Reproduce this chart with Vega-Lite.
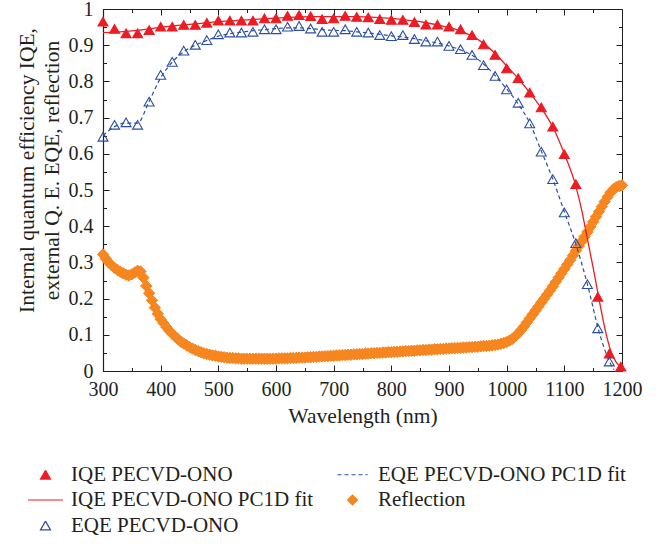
{
  "$schema": "https://vega.github.io/schema/vega-lite/v6.json",
  "autosize": {"type": "none"},
  "width": 519,
  "height": 362,
  "padding": {"left": 103, "top": 9, "right": 48, "bottom": 173},
  "background": "white",
  "config": {
    "view": {"stroke": "#231f20", "strokeWidth": 1},
    "font": "Liberation Serif",
    "axis": {
      "labelFont": "Liberation Serif",
      "titleFont": "Liberation Serif",
      "labelColor": "#231f20",
      "titleColor": "#231f20",
      "tickColor": "#231f20",
      "domainColor": "#231f20",
      "labelFontSize": 20,
      "titleFontSize": 21.5,
      "titleFontWeight": "normal",
      "labelFlush": false,
      "labelOverlap": false,
      "grid": false,
      "tickWidth": 1,
      "domainWidth": 1.2
    },
    "legend": {
      "orient": "none",
      "legendX": -68,
      "legendY": 455,
      "columns": 2,
      "columnPadding": 21,
      "rowPadding": 3.5,
      "padding": 0,
      "labelFont": "Liberation Serif",
      "labelFontSize": 21,
      "labelColor": "#231f20",
      "labelOffset": 15,
      "labelLimit": 400,
      "symbolSize": 100,
      "symbolStrokeWidth": 1.2,
      "title": null
    }
  },
  "data": {"values": [
    {"s": "IQE PECVD-ONO", "w": 300, "v": 0.965},
    {"s": "IQE PECVD-ONO", "w": 320, "v": 0.945},
    {"s": "IQE PECVD-ONO", "w": 340, "v": 0.933},
    {"s": "IQE PECVD-ONO", "w": 360, "v": 0.933},
    {"s": "IQE PECVD-ONO", "w": 380, "v": 0.942},
    {"s": "IQE PECVD-ONO", "w": 400, "v": 0.951},
    {"s": "IQE PECVD-ONO", "w": 420, "v": 0.951},
    {"s": "IQE PECVD-ONO", "w": 440, "v": 0.956},
    {"s": "IQE PECVD-ONO", "w": 460, "v": 0.956},
    {"s": "IQE PECVD-ONO", "w": 480, "v": 0.962},
    {"s": "IQE PECVD-ONO", "w": 500, "v": 0.968},
    {"s": "IQE PECVD-ONO", "w": 520, "v": 0.968},
    {"s": "IQE PECVD-ONO", "w": 540, "v": 0.968},
    {"s": "IQE PECVD-ONO", "w": 560, "v": 0.968},
    {"s": "IQE PECVD-ONO", "w": 580, "v": 0.974},
    {"s": "IQE PECVD-ONO", "w": 600, "v": 0.974},
    {"s": "IQE PECVD-ONO", "w": 620, "v": 0.981},
    {"s": "IQE PECVD-ONO", "w": 640, "v": 0.983},
    {"s": "IQE PECVD-ONO", "w": 660, "v": 0.980},
    {"s": "IQE PECVD-ONO", "w": 680, "v": 0.972},
    {"s": "IQE PECVD-ONO", "w": 700, "v": 0.974},
    {"s": "IQE PECVD-ONO", "w": 720, "v": 0.981},
    {"s": "IQE PECVD-ONO", "w": 740, "v": 0.978},
    {"s": "IQE PECVD-ONO", "w": 760, "v": 0.977},
    {"s": "IQE PECVD-ONO", "w": 780, "v": 0.972},
    {"s": "IQE PECVD-ONO", "w": 800, "v": 0.970},
    {"s": "IQE PECVD-ONO", "w": 820, "v": 0.970},
    {"s": "IQE PECVD-ONO", "w": 840, "v": 0.964},
    {"s": "IQE PECVD-ONO", "w": 860, "v": 0.957},
    {"s": "IQE PECVD-ONO", "w": 880, "v": 0.957},
    {"s": "IQE PECVD-ONO", "w": 900, "v": 0.951},
    {"s": "IQE PECVD-ONO", "w": 920, "v": 0.944},
    {"s": "IQE PECVD-ONO", "w": 940, "v": 0.928},
    {"s": "IQE PECVD-ONO", "w": 960, "v": 0.902},
    {"s": "IQE PECVD-ONO", "w": 980, "v": 0.873},
    {"s": "IQE PECVD-ONO", "w": 1000, "v": 0.836},
    {"s": "IQE PECVD-ONO", "w": 1020, "v": 0.809},
    {"s": "IQE PECVD-ONO", "w": 1040, "v": 0.769},
    {"s": "IQE PECVD-ONO", "w": 1060, "v": 0.728},
    {"s": "IQE PECVD-ONO", "w": 1080, "v": 0.675},
    {"s": "IQE PECVD-ONO", "w": 1100, "v": 0.599},
    {"s": "IQE PECVD-ONO", "w": 1120, "v": 0.516},
    {"s": "IQE PECVD-ONO", "w": 1158, "v": 0.205},
    {"s": "IQE PECVD-ONO", "w": 1178, "v": 0.048},
    {"s": "IQE PECVD-ONO", "w": 1198, "v": 0.012},
    {"s": "EQE PECVD-ONO", "w": 300, "v": 0.647},
    {"s": "EQE PECVD-ONO", "w": 320, "v": 0.680},
    {"s": "EQE PECVD-ONO", "w": 340, "v": 0.687},
    {"s": "EQE PECVD-ONO", "w": 360, "v": 0.680},
    {"s": "EQE PECVD-ONO", "w": 380, "v": 0.744},
    {"s": "EQE PECVD-ONO", "w": 400, "v": 0.818},
    {"s": "EQE PECVD-ONO", "w": 420, "v": 0.854},
    {"s": "EQE PECVD-ONO", "w": 440, "v": 0.885},
    {"s": "EQE PECVD-ONO", "w": 460, "v": 0.901},
    {"s": "EQE PECVD-ONO", "w": 480, "v": 0.914},
    {"s": "EQE PECVD-ONO", "w": 500, "v": 0.930},
    {"s": "EQE PECVD-ONO", "w": 520, "v": 0.935},
    {"s": "EQE PECVD-ONO", "w": 540, "v": 0.935},
    {"s": "EQE PECVD-ONO", "w": 560, "v": 0.937},
    {"s": "EQE PECVD-ONO", "w": 580, "v": 0.944},
    {"s": "EQE PECVD-ONO", "w": 600, "v": 0.944},
    {"s": "EQE PECVD-ONO", "w": 620, "v": 0.951},
    {"s": "EQE PECVD-ONO", "w": 640, "v": 0.953},
    {"s": "EQE PECVD-ONO", "w": 660, "v": 0.946},
    {"s": "EQE PECVD-ONO", "w": 680, "v": 0.937},
    {"s": "EQE PECVD-ONO", "w": 700, "v": 0.937},
    {"s": "EQE PECVD-ONO", "w": 720, "v": 0.944},
    {"s": "EQE PECVD-ONO", "w": 740, "v": 0.937},
    {"s": "EQE PECVD-ONO", "w": 760, "v": 0.935},
    {"s": "EQE PECVD-ONO", "w": 780, "v": 0.928},
    {"s": "EQE PECVD-ONO", "w": 800, "v": 0.925},
    {"s": "EQE PECVD-ONO", "w": 820, "v": 0.928},
    {"s": "EQE PECVD-ONO", "w": 840, "v": 0.917},
    {"s": "EQE PECVD-ONO", "w": 860, "v": 0.910},
    {"s": "EQE PECVD-ONO", "w": 880, "v": 0.910},
    {"s": "EQE PECVD-ONO", "w": 900, "v": 0.898},
    {"s": "EQE PECVD-ONO", "w": 920, "v": 0.889},
    {"s": "EQE PECVD-ONO", "w": 940, "v": 0.873},
    {"s": "EQE PECVD-ONO", "w": 960, "v": 0.845},
    {"s": "EQE PECVD-ONO", "w": 980, "v": 0.815},
    {"s": "EQE PECVD-ONO", "w": 1000, "v": 0.778},
    {"s": "EQE PECVD-ONO", "w": 1020, "v": 0.741},
    {"s": "EQE PECVD-ONO", "w": 1040, "v": 0.684},
    {"s": "EQE PECVD-ONO", "w": 1060, "v": 0.606},
    {"s": "EQE PECVD-ONO", "w": 1080, "v": 0.530},
    {"s": "EQE PECVD-ONO", "w": 1100, "v": 0.438},
    {"s": "EQE PECVD-ONO", "w": 1120, "v": 0.353},
    {"s": "EQE PECVD-ONO", "w": 1140, "v": 0.240},
    {"s": "EQE PECVD-ONO", "w": 1158, "v": 0.118},
    {"s": "EQE PECVD-ONO", "w": 1178, "v": 0.026},
    {"s": "IQE PECVD-ONO PC1D fit", "w": 300, "v": 0.935},
    {"s": "IQE PECVD-ONO PC1D fit", "w": 320, "v": 0.936},
    {"s": "IQE PECVD-ONO PC1D fit", "w": 340, "v": 0.938},
    {"s": "IQE PECVD-ONO PC1D fit", "w": 360, "v": 0.941},
    {"s": "IQE PECVD-ONO PC1D fit", "w": 380, "v": 0.945},
    {"s": "IQE PECVD-ONO PC1D fit", "w": 400, "v": 0.950},
    {"s": "IQE PECVD-ONO PC1D fit", "w": 420, "v": 0.953},
    {"s": "IQE PECVD-ONO PC1D fit", "w": 440, "v": 0.956},
    {"s": "IQE PECVD-ONO PC1D fit", "w": 460, "v": 0.959},
    {"s": "IQE PECVD-ONO PC1D fit", "w": 480, "v": 0.962},
    {"s": "IQE PECVD-ONO PC1D fit", "w": 500, "v": 0.965},
    {"s": "IQE PECVD-ONO PC1D fit", "w": 520, "v": 0.967},
    {"s": "IQE PECVD-ONO PC1D fit", "w": 540, "v": 0.969},
    {"s": "IQE PECVD-ONO PC1D fit", "w": 560, "v": 0.971},
    {"s": "IQE PECVD-ONO PC1D fit", "w": 580, "v": 0.973},
    {"s": "IQE PECVD-ONO PC1D fit", "w": 600, "v": 0.975},
    {"s": "IQE PECVD-ONO PC1D fit", "w": 620, "v": 0.977},
    {"s": "IQE PECVD-ONO PC1D fit", "w": 640, "v": 0.978},
    {"s": "IQE PECVD-ONO PC1D fit", "w": 660, "v": 0.979},
    {"s": "IQE PECVD-ONO PC1D fit", "w": 680, "v": 0.979},
    {"s": "IQE PECVD-ONO PC1D fit", "w": 700, "v": 0.979},
    {"s": "IQE PECVD-ONO PC1D fit", "w": 720, "v": 0.979},
    {"s": "IQE PECVD-ONO PC1D fit", "w": 740, "v": 0.979},
    {"s": "IQE PECVD-ONO PC1D fit", "w": 760, "v": 0.978},
    {"s": "IQE PECVD-ONO PC1D fit", "w": 780, "v": 0.976},
    {"s": "IQE PECVD-ONO PC1D fit", "w": 800, "v": 0.974},
    {"s": "IQE PECVD-ONO PC1D fit", "w": 820, "v": 0.971},
    {"s": "IQE PECVD-ONO PC1D fit", "w": 840, "v": 0.967},
    {"s": "IQE PECVD-ONO PC1D fit", "w": 860, "v": 0.962},
    {"s": "IQE PECVD-ONO PC1D fit", "w": 880, "v": 0.956},
    {"s": "IQE PECVD-ONO PC1D fit", "w": 900, "v": 0.949},
    {"s": "IQE PECVD-ONO PC1D fit", "w": 920, "v": 0.939},
    {"s": "IQE PECVD-ONO PC1D fit", "w": 940, "v": 0.925},
    {"s": "IQE PECVD-ONO PC1D fit", "w": 960, "v": 0.905},
    {"s": "IQE PECVD-ONO PC1D fit", "w": 980, "v": 0.877},
    {"s": "IQE PECVD-ONO PC1D fit", "w": 1000, "v": 0.843},
    {"s": "IQE PECVD-ONO PC1D fit", "w": 1020, "v": 0.808},
    {"s": "IQE PECVD-ONO PC1D fit", "w": 1040, "v": 0.769},
    {"s": "IQE PECVD-ONO PC1D fit", "w": 1060, "v": 0.726},
    {"s": "IQE PECVD-ONO PC1D fit", "w": 1080, "v": 0.674},
    {"s": "IQE PECVD-ONO PC1D fit", "w": 1100, "v": 0.600},
    {"s": "IQE PECVD-ONO PC1D fit", "w": 1120, "v": 0.510},
    {"s": "IQE PECVD-ONO PC1D fit", "w": 1130, "v": 0.445},
    {"s": "IQE PECVD-ONO PC1D fit", "w": 1140, "v": 0.365},
    {"s": "IQE PECVD-ONO PC1D fit", "w": 1150, "v": 0.285},
    {"s": "IQE PECVD-ONO PC1D fit", "w": 1160, "v": 0.200},
    {"s": "IQE PECVD-ONO PC1D fit", "w": 1170, "v": 0.120},
    {"s": "IQE PECVD-ONO PC1D fit", "w": 1180, "v": 0.058},
    {"s": "IQE PECVD-ONO PC1D fit", "w": 1190, "v": 0.024},
    {"s": "IQE PECVD-ONO PC1D fit", "w": 1200, "v": 0.010},
    {"s": "EQE PECVD-ONO PC1D fit", "w": 300, "v": 0.650},
    {"s": "EQE PECVD-ONO PC1D fit", "w": 320, "v": 0.675},
    {"s": "EQE PECVD-ONO PC1D fit", "w": 340, "v": 0.685},
    {"s": "EQE PECVD-ONO PC1D fit", "w": 360, "v": 0.685},
    {"s": "EQE PECVD-ONO PC1D fit", "w": 380, "v": 0.745},
    {"s": "EQE PECVD-ONO PC1D fit", "w": 400, "v": 0.810},
    {"s": "EQE PECVD-ONO PC1D fit", "w": 420, "v": 0.853},
    {"s": "EQE PECVD-ONO PC1D fit", "w": 440, "v": 0.882},
    {"s": "EQE PECVD-ONO PC1D fit", "w": 460, "v": 0.900},
    {"s": "EQE PECVD-ONO PC1D fit", "w": 480, "v": 0.913},
    {"s": "EQE PECVD-ONO PC1D fit", "w": 500, "v": 0.925},
    {"s": "EQE PECVD-ONO PC1D fit", "w": 520, "v": 0.932},
    {"s": "EQE PECVD-ONO PC1D fit", "w": 540, "v": 0.936},
    {"s": "EQE PECVD-ONO PC1D fit", "w": 560, "v": 0.940},
    {"s": "EQE PECVD-ONO PC1D fit", "w": 580, "v": 0.943},
    {"s": "EQE PECVD-ONO PC1D fit", "w": 600, "v": 0.946},
    {"s": "EQE PECVD-ONO PC1D fit", "w": 620, "v": 0.948},
    {"s": "EQE PECVD-ONO PC1D fit", "w": 640, "v": 0.948},
    {"s": "EQE PECVD-ONO PC1D fit", "w": 660, "v": 0.946},
    {"s": "EQE PECVD-ONO PC1D fit", "w": 680, "v": 0.943},
    {"s": "EQE PECVD-ONO PC1D fit", "w": 700, "v": 0.941},
    {"s": "EQE PECVD-ONO PC1D fit", "w": 720, "v": 0.940},
    {"s": "EQE PECVD-ONO PC1D fit", "w": 740, "v": 0.937},
    {"s": "EQE PECVD-ONO PC1D fit", "w": 760, "v": 0.934},
    {"s": "EQE PECVD-ONO PC1D fit", "w": 780, "v": 0.930},
    {"s": "EQE PECVD-ONO PC1D fit", "w": 800, "v": 0.926},
    {"s": "EQE PECVD-ONO PC1D fit", "w": 820, "v": 0.923},
    {"s": "EQE PECVD-ONO PC1D fit", "w": 840, "v": 0.918},
    {"s": "EQE PECVD-ONO PC1D fit", "w": 860, "v": 0.912},
    {"s": "EQE PECVD-ONO PC1D fit", "w": 880, "v": 0.906},
    {"s": "EQE PECVD-ONO PC1D fit", "w": 900, "v": 0.898},
    {"s": "EQE PECVD-ONO PC1D fit", "w": 920, "v": 0.887},
    {"s": "EQE PECVD-ONO PC1D fit", "w": 940, "v": 0.872},
    {"s": "EQE PECVD-ONO PC1D fit", "w": 960, "v": 0.848},
    {"s": "EQE PECVD-ONO PC1D fit", "w": 980, "v": 0.816},
    {"s": "EQE PECVD-ONO PC1D fit", "w": 1000, "v": 0.779},
    {"s": "EQE PECVD-ONO PC1D fit", "w": 1020, "v": 0.738},
    {"s": "EQE PECVD-ONO PC1D fit", "w": 1040, "v": 0.685},
    {"s": "EQE PECVD-ONO PC1D fit", "w": 1060, "v": 0.608},
    {"s": "EQE PECVD-ONO PC1D fit", "w": 1080, "v": 0.530},
    {"s": "EQE PECVD-ONO PC1D fit", "w": 1100, "v": 0.440},
    {"s": "EQE PECVD-ONO PC1D fit", "w": 1120, "v": 0.350},
    {"s": "EQE PECVD-ONO PC1D fit", "w": 1140, "v": 0.240},
    {"s": "EQE PECVD-ONO PC1D fit", "w": 1160, "v": 0.110},
    {"s": "EQE PECVD-ONO PC1D fit", "w": 1180, "v": 0.020},
    {"s": "EQE PECVD-ONO PC1D fit", "w": 1186, "v": 0.004},
    {"s": "Reflection", "w": 300, "v": 0.322},
    {"s": "Reflection", "w": 305, "v": 0.310},
    {"s": "Reflection", "w": 310, "v": 0.300},
    {"s": "Reflection", "w": 315, "v": 0.292},
    {"s": "Reflection", "w": 320, "v": 0.285},
    {"s": "Reflection", "w": 325, "v": 0.279},
    {"s": "Reflection", "w": 330, "v": 0.274},
    {"s": "Reflection", "w": 335, "v": 0.270},
    {"s": "Reflection", "w": 340, "v": 0.266},
    {"s": "Reflection", "w": 345, "v": 0.264},
    {"s": "Reflection", "w": 350, "v": 0.267},
    {"s": "Reflection", "w": 355, "v": 0.272},
    {"s": "Reflection", "w": 360, "v": 0.277},
    {"s": "Reflection", "w": 365, "v": 0.275},
    {"s": "Reflection", "w": 370, "v": 0.258},
    {"s": "Reflection", "w": 375, "v": 0.235},
    {"s": "Reflection", "w": 380, "v": 0.215},
    {"s": "Reflection", "w": 385, "v": 0.195},
    {"s": "Reflection", "w": 390, "v": 0.175},
    {"s": "Reflection", "w": 395, "v": 0.158},
    {"s": "Reflection", "w": 400, "v": 0.143},
    {"s": "Reflection", "w": 405, "v": 0.132},
    {"s": "Reflection", "w": 410, "v": 0.121},
    {"s": "Reflection", "w": 415, "v": 0.111},
    {"s": "Reflection", "w": 420, "v": 0.103},
    {"s": "Reflection", "w": 425, "v": 0.095},
    {"s": "Reflection", "w": 430, "v": 0.088},
    {"s": "Reflection", "w": 435, "v": 0.081},
    {"s": "Reflection", "w": 440, "v": 0.076},
    {"s": "Reflection", "w": 445, "v": 0.071},
    {"s": "Reflection", "w": 450, "v": 0.066},
    {"s": "Reflection", "w": 455, "v": 0.062},
    {"s": "Reflection", "w": 460, "v": 0.058},
    {"s": "Reflection", "w": 465, "v": 0.055},
    {"s": "Reflection", "w": 470, "v": 0.052},
    {"s": "Reflection", "w": 475, "v": 0.049},
    {"s": "Reflection", "w": 480, "v": 0.047},
    {"s": "Reflection", "w": 485, "v": 0.045},
    {"s": "Reflection", "w": 490, "v": 0.043},
    {"s": "Reflection", "w": 495, "v": 0.042},
    {"s": "Reflection", "w": 500, "v": 0.040},
    {"s": "Reflection", "w": 505, "v": 0.039},
    {"s": "Reflection", "w": 510, "v": 0.038},
    {"s": "Reflection", "w": 515, "v": 0.037},
    {"s": "Reflection", "w": 520, "v": 0.036},
    {"s": "Reflection", "w": 525, "v": 0.036},
    {"s": "Reflection", "w": 530, "v": 0.035},
    {"s": "Reflection", "w": 535, "v": 0.035},
    {"s": "Reflection", "w": 540, "v": 0.034},
    {"s": "Reflection", "w": 545, "v": 0.034},
    {"s": "Reflection", "w": 550, "v": 0.034},
    {"s": "Reflection", "w": 555, "v": 0.034},
    {"s": "Reflection", "w": 560, "v": 0.034},
    {"s": "Reflection", "w": 565, "v": 0.034},
    {"s": "Reflection", "w": 570, "v": 0.034},
    {"s": "Reflection", "w": 575, "v": 0.034},
    {"s": "Reflection", "w": 580, "v": 0.034},
    {"s": "Reflection", "w": 585, "v": 0.034},
    {"s": "Reflection", "w": 590, "v": 0.034},
    {"s": "Reflection", "w": 595, "v": 0.034},
    {"s": "Reflection", "w": 600, "v": 0.034},
    {"s": "Reflection", "w": 605, "v": 0.035},
    {"s": "Reflection", "w": 610, "v": 0.035},
    {"s": "Reflection", "w": 615, "v": 0.035},
    {"s": "Reflection", "w": 620, "v": 0.035},
    {"s": "Reflection", "w": 625, "v": 0.036},
    {"s": "Reflection", "w": 630, "v": 0.036},
    {"s": "Reflection", "w": 635, "v": 0.036},
    {"s": "Reflection", "w": 640, "v": 0.037},
    {"s": "Reflection", "w": 645, "v": 0.037},
    {"s": "Reflection", "w": 650, "v": 0.037},
    {"s": "Reflection", "w": 655, "v": 0.038},
    {"s": "Reflection", "w": 660, "v": 0.038},
    {"s": "Reflection", "w": 665, "v": 0.039},
    {"s": "Reflection", "w": 670, "v": 0.039},
    {"s": "Reflection", "w": 675, "v": 0.040},
    {"s": "Reflection", "w": 680, "v": 0.040},
    {"s": "Reflection", "w": 685, "v": 0.041},
    {"s": "Reflection", "w": 690, "v": 0.041},
    {"s": "Reflection", "w": 695, "v": 0.042},
    {"s": "Reflection", "w": 700, "v": 0.042},
    {"s": "Reflection", "w": 705, "v": 0.043},
    {"s": "Reflection", "w": 710, "v": 0.043},
    {"s": "Reflection", "w": 715, "v": 0.044},
    {"s": "Reflection", "w": 720, "v": 0.044},
    {"s": "Reflection", "w": 725, "v": 0.045},
    {"s": "Reflection", "w": 730, "v": 0.045},
    {"s": "Reflection", "w": 735, "v": 0.046},
    {"s": "Reflection", "w": 740, "v": 0.046},
    {"s": "Reflection", "w": 745, "v": 0.047},
    {"s": "Reflection", "w": 750, "v": 0.047},
    {"s": "Reflection", "w": 755, "v": 0.048},
    {"s": "Reflection", "w": 760, "v": 0.048},
    {"s": "Reflection", "w": 765, "v": 0.049},
    {"s": "Reflection", "w": 770, "v": 0.049},
    {"s": "Reflection", "w": 775, "v": 0.050},
    {"s": "Reflection", "w": 780, "v": 0.050},
    {"s": "Reflection", "w": 785, "v": 0.051},
    {"s": "Reflection", "w": 790, "v": 0.051},
    {"s": "Reflection", "w": 795, "v": 0.052},
    {"s": "Reflection", "w": 800, "v": 0.052},
    {"s": "Reflection", "w": 805, "v": 0.053},
    {"s": "Reflection", "w": 810, "v": 0.053},
    {"s": "Reflection", "w": 815, "v": 0.054},
    {"s": "Reflection", "w": 820, "v": 0.054},
    {"s": "Reflection", "w": 825, "v": 0.055},
    {"s": "Reflection", "w": 830, "v": 0.055},
    {"s": "Reflection", "w": 835, "v": 0.056},
    {"s": "Reflection", "w": 840, "v": 0.056},
    {"s": "Reflection", "w": 845, "v": 0.057},
    {"s": "Reflection", "w": 850, "v": 0.057},
    {"s": "Reflection", "w": 855, "v": 0.058},
    {"s": "Reflection", "w": 860, "v": 0.058},
    {"s": "Reflection", "w": 865, "v": 0.059},
    {"s": "Reflection", "w": 870, "v": 0.059},
    {"s": "Reflection", "w": 875, "v": 0.060},
    {"s": "Reflection", "w": 880, "v": 0.060},
    {"s": "Reflection", "w": 885, "v": 0.061},
    {"s": "Reflection", "w": 890, "v": 0.061},
    {"s": "Reflection", "w": 895, "v": 0.062},
    {"s": "Reflection", "w": 900, "v": 0.062},
    {"s": "Reflection", "w": 905, "v": 0.063},
    {"s": "Reflection", "w": 910, "v": 0.063},
    {"s": "Reflection", "w": 915, "v": 0.064},
    {"s": "Reflection", "w": 920, "v": 0.064},
    {"s": "Reflection", "w": 925, "v": 0.065},
    {"s": "Reflection", "w": 930, "v": 0.065},
    {"s": "Reflection", "w": 935, "v": 0.066},
    {"s": "Reflection", "w": 940, "v": 0.066},
    {"s": "Reflection", "w": 945, "v": 0.067},
    {"s": "Reflection", "w": 950, "v": 0.067},
    {"s": "Reflection", "w": 955, "v": 0.068},
    {"s": "Reflection", "w": 960, "v": 0.069},
    {"s": "Reflection", "w": 965, "v": 0.069},
    {"s": "Reflection", "w": 970, "v": 0.070},
    {"s": "Reflection", "w": 975, "v": 0.071},
    {"s": "Reflection", "w": 980, "v": 0.072},
    {"s": "Reflection", "w": 985, "v": 0.073},
    {"s": "Reflection", "w": 990, "v": 0.075},
    {"s": "Reflection", "w": 995, "v": 0.077},
    {"s": "Reflection", "w": 1000, "v": 0.080},
    {"s": "Reflection", "w": 1005, "v": 0.084},
    {"s": "Reflection", "w": 1010, "v": 0.089},
    {"s": "Reflection", "w": 1015, "v": 0.096},
    {"s": "Reflection", "w": 1020, "v": 0.104},
    {"s": "Reflection", "w": 1025, "v": 0.113},
    {"s": "Reflection", "w": 1030, "v": 0.123},
    {"s": "Reflection", "w": 1035, "v": 0.134},
    {"s": "Reflection", "w": 1040, "v": 0.145},
    {"s": "Reflection", "w": 1045, "v": 0.156},
    {"s": "Reflection", "w": 1050, "v": 0.167},
    {"s": "Reflection", "w": 1055, "v": 0.178},
    {"s": "Reflection", "w": 1060, "v": 0.189},
    {"s": "Reflection", "w": 1065, "v": 0.200},
    {"s": "Reflection", "w": 1070, "v": 0.211},
    {"s": "Reflection", "w": 1075, "v": 0.222},
    {"s": "Reflection", "w": 1080, "v": 0.234},
    {"s": "Reflection", "w": 1085, "v": 0.246},
    {"s": "Reflection", "w": 1090, "v": 0.258},
    {"s": "Reflection", "w": 1095, "v": 0.270},
    {"s": "Reflection", "w": 1100, "v": 0.282},
    {"s": "Reflection", "w": 1105, "v": 0.294},
    {"s": "Reflection", "w": 1110, "v": 0.306},
    {"s": "Reflection", "w": 1115, "v": 0.319},
    {"s": "Reflection", "w": 1120, "v": 0.332},
    {"s": "Reflection", "w": 1125, "v": 0.345},
    {"s": "Reflection", "w": 1130, "v": 0.358},
    {"s": "Reflection", "w": 1135, "v": 0.371},
    {"s": "Reflection", "w": 1140, "v": 0.384},
    {"s": "Reflection", "w": 1145, "v": 0.398},
    {"s": "Reflection", "w": 1150, "v": 0.412},
    {"s": "Reflection", "w": 1155, "v": 0.426},
    {"s": "Reflection", "w": 1160, "v": 0.440},
    {"s": "Reflection", "w": 1165, "v": 0.454},
    {"s": "Reflection", "w": 1170, "v": 0.468},
    {"s": "Reflection", "w": 1175, "v": 0.481},
    {"s": "Reflection", "w": 1180, "v": 0.493},
    {"s": "Reflection", "w": 1185, "v": 0.502},
    {"s": "Reflection", "w": 1190, "v": 0.508},
    {"s": "Reflection", "w": 1195, "v": 0.511},
    {"s": "Reflection", "w": 1200, "v": 0.513}
  ]},
  "resolve": {"axis": {"x": "independent", "y": "independent"}},
  "layer": [
    {
      "transform": [{"filter": "datum.s === 'Reflection'"}],
      "mark": {"type": "point", "filled": true, "size": 130, "strokeWidth": 1, "opacity": 1},
      "encoding": {
        "x": {"field": "w", "type": "quantitative", "scale": {"domain": [300, 1200], "nice": false, "zero": false},
              "axis": {"orient": "top", "values": [300, 400, 500, 600, 700, 800, 900, 1000, 1100, 1200], "labels": false, "domain": false, "tickSize": -6, "title": null}},
        "y": {"field": "v", "type": "quantitative", "scale": {"domain": [0, 1], "nice": false},
              "axis": {"orient": "right", "values": [0, 0.1, 0.2, 0.3, 0.4, 0.5, 0.6, 0.7, 0.8, 0.9, 1], "labels": false, "domain": false, "tickSize": -6, "title": null}},
        "stroke": {"field": "s", "type": "nominal", "scale": {"domain": ["IQE PECVD-ONO", "IQE PECVD-ONO PC1D fit", "EQE PECVD-ONO", "EQE PECVD-ONO PC1D fit", "Reflection"], "range": ["#ed1c24", "#ed1c24", "#2b4ea2", "#2b4ea2", "#f6861f"]}},
        "fill": {"field": "s", "type": "nominal", "scale": {"domain": ["IQE PECVD-ONO", "IQE PECVD-ONO PC1D fit", "EQE PECVD-ONO", "EQE PECVD-ONO PC1D fit", "Reflection"], "range": ["#ed1c24", "transparent", "transparent", "transparent", "#f6861f"]}},
        "shape": {"field": "s", "type": "nominal", "scale": {"domain": ["IQE PECVD-ONO", "IQE PECVD-ONO PC1D fit", "EQE PECVD-ONO", "EQE PECVD-ONO PC1D fit", "Reflection"], "range": ["triangle-up", "M-3.5,0H3.5", "triangle-up", "M-3,0H3", "diamond"]}}
      }
    },
    {
      "transform": [{"filter": "datum.s === 'IQE PECVD-ONO PC1D fit'"}],
      "mark": {"type": "line", "strokeWidth": 1.3, "interpolate": "monotone"},
      "encoding": {
        "x": {"field": "w", "type": "quantitative",
              "axis": {"orient": "bottom", "values": [300, 400, 500, 600, 700, 800, 900, 1000, 1100, 1200], "format": "d", "tickSize": -6, "labelPadding": 14, "title": "Wavelength (nm)", "titlePadding": 6}},
        "y": {"field": "v", "type": "quantitative",
              "axis": {"orient": "left", "values": [0, 0.1, 0.2, 0.3, 0.4, 0.5, 0.6, 0.7, 0.8, 0.9, 1], "format": "~g", "tickSize": -6, "labelPadding": 16, "title": ["Internal quantum efficiency IQE,", "external Q. E. EQE, reflection"], "titleLineHeight": 25, "titlePadding": 5, "titleY": 161}},
        "stroke": {"field": "s", "type": "nominal"},
        "strokeDash": {"field": "s", "type": "nominal", "scale": {"domain": ["IQE PECVD-ONO", "IQE PECVD-ONO PC1D fit", "EQE PECVD-ONO", "EQE PECVD-ONO PC1D fit", "Reflection"], "range": [[300, 1], [300, 1], [300, 1], [4, 3], [300, 1]]}}
      }
    },
    {
      "transform": [{"filter": "datum.s === 'EQE PECVD-ONO PC1D fit'"}],
      "mark": {"type": "line", "strokeWidth": 1.2, "interpolate": "monotone"},
      "encoding": {
        "x": {"field": "w", "type": "quantitative",
              "axis": {"orient": "top", "values": [350, 450, 550, 650, 750, 850, 950, 1050, 1150], "labels": false, "domain": false, "tickSize": -3.5, "title": null}},
        "y": {"field": "v", "type": "quantitative",
              "axis": {"orient": "right", "values": [0.05, 0.15, 0.25, 0.35, 0.45, 0.55, 0.65, 0.75, 0.85, 0.95], "labels": false, "domain": false, "tickSize": -3.5, "title": null}},
        "stroke": {"field": "s", "type": "nominal"},
        "strokeDash": {"field": "s", "type": "nominal"}
      }
    },
    {
      "transform": [{"filter": "datum.s === 'IQE PECVD-ONO' || datum.s === 'EQE PECVD-ONO'"}],
      "mark": {"type": "point", "filled": true, "size": 100, "strokeWidth": 1.1, "opacity": 1},
      "encoding": {
        "x": {"field": "w", "type": "quantitative",
              "axis": {"orient": "bottom", "values": [350, 450, 550, 650, 750, 850, 950, 1050, 1150], "labels": false, "domain": false, "tickSize": -3.5, "title": null}},
        "y": {"field": "v", "type": "quantitative",
              "axis": {"orient": "left", "values": [0.05, 0.15, 0.25, 0.35, 0.45, 0.55, 0.65, 0.75, 0.85, 0.95], "labels": false, "domain": false, "tickSize": -3.5, "title": null}},
        "stroke": {"field": "s", "type": "nominal"},
        "fill": {"field": "s", "type": "nominal"},
        "shape": {"field": "s", "type": "nominal"}
      }
    }
  ]
}
